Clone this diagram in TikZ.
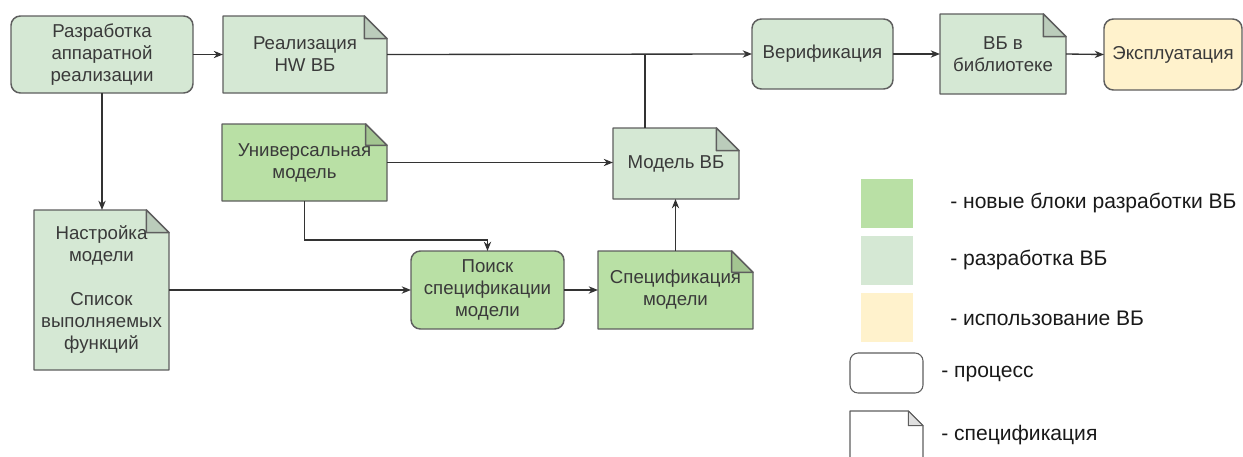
\documentclass[tikz,border=0pt]{standalone}
\usepackage{fontspec}
\setmainfont{Liberation Sans}
\usetikzlibrary{arrows.meta,backgrounds,calc}

\definecolor{newgreen}{HTML}{B9E0A5}
\definecolor{devgreen}{HTML}{D5E8D4}
\definecolor{useyellow}{HTML}{FFF2CC}
\definecolor{boxline}{HTML}{5E5E5E}
\definecolor{wire}{HTML}{333333}
\definecolor{ink}{HTML}{3A3A3A}

\tikzset{
  sz/.style 2 args={minimum width=#1*0.75pt, minimum height=#2*0.75pt},
  box/.style={inner sep=2pt, outer sep=0pt, align=center, text=ink,
    font=\fontsize{14}{16.5}\selectfont},
  proc/.style={box, draw=boxline, line width=1.1pt, rounded corners=7pt},
  doc/.style={box},
  swatch/.style={inner sep=0pt, outer sep=0pt},
  legtext/.style={anchor=west, inner sep=0pt, text=black!90,
    font=\fontsize{15.8}{18}\selectfont},
  wirearrow/.style={draw=wire, line width=1pt,
    -{Stealth[length=7pt,width=5.5pt]}},
  wireline/.style={draw=wire, line width=1pt},
}

% Sheet outline with a turned-down top right corner, drawn behind the node
\newcommand\sheet[4][1.1pt]{%
  \begin{pgfonlayer}{background}
    \filldraw[fill=#3, draw=boxline, line width=#1, line join=round]
      (#2.north west) -- ([xshift=-#4]#2.north east)
      -- ([yshift=-#4]#2.north east) -- (#2.south east)
      -- (#2.south west) -- cycle;
    \filldraw[fill=#3!88!black, draw=boxline, line width=#1, line join=round]
      ([xshift=-#4]#2.north east) -- ([xshift=-#4,yshift=-#4]#2.north east)
      -- ([yshift=-#4]#2.north east) -- cycle;
  \end{pgfonlayer}}

\begin{document}
\begin{tikzpicture}[x=0.75pt,y=-0.75pt]
\useasboundingbox (0,0) rectangle (1243,457);

% top row
\node[proc, fill=devgreen, sz={182}{77}] (dev) at (102,54.5)
  {Разработка\\аппаратной\\реализации};
\node[doc, sz={164}{77}, text depth=-2pt] (hw) at (305,54.5) {Реализация\\HW ВБ};
\sheet{hw}{devgreen}{17pt}
\node[proc, fill=devgreen, sz={141}{70}] (ver) at (822.5,54) {Верификация};
\node[doc, sz={126}{80}, text depth=-2pt] (lib) at (1003,54) {ВБ в\\библиотеке};
\sheet{lib}{devgreen}{17pt}
\node[proc, fill=useyellow, sz={138}{71}] (exp) at (1173,54.5) {Эксплуатация};

% middle row
\node[doc, sz={165}{77}] (uni) at (304.5,162.5) {Универсальная\\модель};
\sheet{uni}{newgreen}{16pt}
\node[doc, sz={126}{71}] (mod) at (676,163.5) {Модель ВБ};
\sheet{mod}{devgreen}{17pt}

% bottom row
\node[doc, sz={135}{160}] (tune) at (101.5,290)
  {Настройка\\модели\\[16.5pt]Список\\выполняемых\\функций};
\sheet{tune}{devgreen}{17pt}
\node[proc, fill=newgreen, sz={153}{78}] (search) at (487.5,290)
  {Поиск\\спецификации\\модели};
\node[doc, sz={155}{78}] (spec) at (675.5,290) {Спецификация\\модели};
\sheet{spec}{newgreen}{16pt}

% connectors
\coordinate (join) at (645,54);
\coordinate (knee) at (487.5,240);
\draw[wirearrow] (dev.east) -- (hw.west);
\draw[wirearrow] (hw.east) -- (ver.west);
\draw[wireline] (join |- mod.north) -- (join);
\draw[wirearrow] (ver.east) -- (lib.west);
\draw[wirearrow] (lib.east) -- (exp.west);
\draw[wirearrow] (uni.east) -- (uni.east -| mod.west);
\draw[wirearrow] (spec.north) -- (spec.north |- mod.south);
\draw[wirearrow] (uni.south) |- (knee) -- (search.north);
\draw[wirearrow] (dev.south) -- (dev.south |- tune.north);
\draw[wirearrow] (tune.east) -- (search.west);
\draw[wirearrow] (search.east) -- (spec.west);

% legend
\node[swatch, fill=newgreen, sz={52}{49}] (kNew) at (887,203.5) {};
\node[swatch, fill=devgreen, sz={52}{49}] (kDev) at (887,260.5) {};
\node[swatch, fill=useyellow, sz={52}{49}] (kUse) at (887,317.5) {};
\node[swatch, draw=boxline, line width=0.8pt, rounded corners=6pt, fill=white,
  sz={73}{40}] (kProc) at (886.5,373) {};
\node[swatch, sz={73}{60}] (kDoc) at (886.5,441) {};
\sheet[0.8pt]{kDoc}{white}{11pt}

\node[legtext] (tNew) at (950,203) {- новые блоки разработки ВБ};
\node[legtext] (tDev) at (950,260) {- разработка ВБ};
\node[legtext] (tUse) at (950,318) {- использование ВБ};
\node[legtext] (tProc) at (941,374) {- процесс};
\node[legtext] (tDoc) at (941,435) {- спецификация};
\end{tikzpicture}
\end{document}
